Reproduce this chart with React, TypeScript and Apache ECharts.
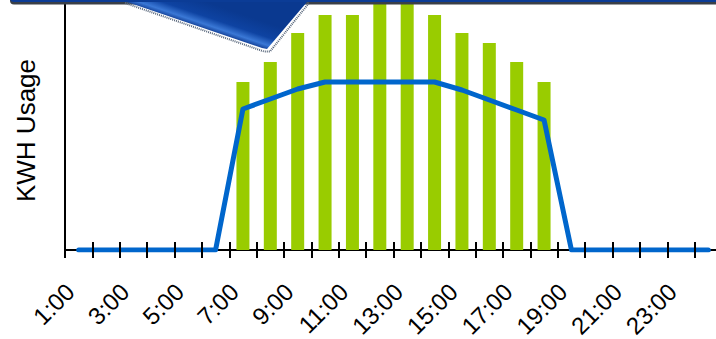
import React, { useEffect, useRef } from "react";
import * as echarts from "echarts";

const hours = [
  "1:00", "2:00", "3:00", "4:00", "5:00", "6:00", "7:00", "8:00",
  "9:00", "10:00", "11:00", "12:00", "13:00", "14:00", "15:00", "16:00",
  "17:00", "18:00", "19:00", "20:00", "21:00", "22:00", "23:00", "24:00",
];
const barValues = [0, 0, 0, 0, 0, 0, 168, 188, 217, 235, 235, 248, 248, 235, 217, 207, 188, 168, 0, 0, 0, 0, 0, 0];
const lineValues = [0, 0, 0, 0, 0, 0, 141, 151, 161, 168, 168, 168, 168, 168, 160, 150, 140, 130, 0, 0, 0, 0, 0, 0];
const yAxisTitle = "KWH Usage";

const FONT = "'Liberation Sans', Arial, sans-serif";

export default function App() {
  const ref = useRef<HTMLDivElement>(null);
  useEffect(() => {
    if (!ref.current) return;
    const chart = echarts.init(ref.current, null, { renderer: "svg" });
    const tickAxis = (inside: boolean) => ({
      type: "category" as const,
      data: hours,
      position: "bottom" as const,
      z: 5,
      axisLine: { show: false },
      axisLabel: { show: false },
      splitLine: { show: false },
      axisTick: { show: true, inside, length: 8, interval: 0, lineStyle: { color: "#000", width: 2 } },
    });
    chart.setOption({
      animation: false,
      grid: { left: 65, top: 0, width: 657, height: 250, outerBoundsMode: "none", containLabel: false },
      xAxis: [
        {
          type: "category",
          data: hours,
          position: "bottom",
          axisLine: { show: true, lineStyle: { color: "#000", width: 2 } },
          axisTick: { show: false },
          axisLabel: {
            interval: 1,
            rotate: 45,
            margin: 46,
            fontSize: 24,
            color: "#000",
            fontFamily: FONT,
            align: "right",
            verticalAlign: "bottom",
          },
        },
        tickAxis(true),
        tickAxis(false),
      ],
      yAxis: {
        type: "value",
        min: 0,
        max: 250,
        name: yAxisTitle,
        nameLocation: "middle",
        nameRotate: 90,
        nameGap: 26,
        nameTextStyle: { fontSize: 26, color: "#000", fontFamily: FONT, padding: [0, 11, 0, 0] },
        axisLine: { show: true, lineStyle: { color: "#000", width: 2 } },
        axisTick: { show: false },
        axisLabel: { show: false },
        splitLine: { show: false },
      },
      series: [
        {
          type: "bar",
          data: barValues,
          barWidth: 13,
          itemStyle: { color: "#99cc00" },
          z: 2,
        },
        {
          type: "line",
          data: lineValues,
          showSymbol: false,
          symbol: "none",
          z: 3,
          lineStyle: { color: "#0066cc", width: 5, cap: "round", join: "round" },
        },
      ],
      graphic: [
        {
          type: "rect",
          z: 100,
          shape: { x: 10, y: -20, width: 720, height: 24.5, r: 4 },
          style: { fill: "#3a3f47" },
        },
        {
          type: "rect",
          z: 101,
          shape: { x: 10, y: -20, width: 720, height: 22, r: 4 },
          style: { fill: "#0b3c96" },
        },
        {
          type: "polygon",
          z: 100,
          shape: { points: [[125, 3], [264, 51.5], [270, 51.5], [309, 3]] },
          style: { fill: "none", stroke: "#56657a", lineWidth: 2, lineDash: [1, 1] },
        },
        {
          type: "polygon",
          z: 102,
          shape: { points: [[127, 2], [262, 48], [267, 49], [307, 2]] },
          style: {
            fill: new echarts.graphic.LinearGradient(208, 2.75, 200, 26.5, [
              { offset: 0, color: "#0a3990" },
              { offset: 0.55, color: "#0e43a2" },
              { offset: 0.85, color: "#3a78d6" },
              { offset: 1, color: "#1a4aa2" },
            ], true),
          },
        },
      ],
    });
    return () => chart.dispose();
  }, []);
  return (
    <div
      ref={ref}
      style={{ position: "fixed", left: 0, top: 0, width: 716, height: 339, background: "#fff" }}
    />
  );
}
